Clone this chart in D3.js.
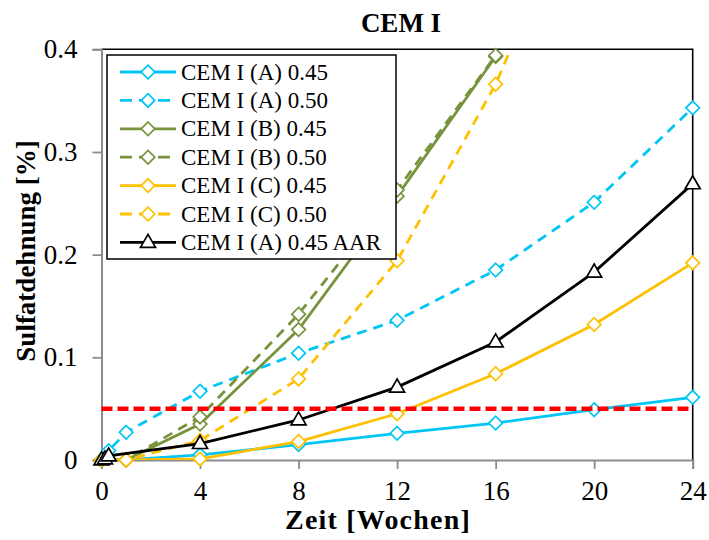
<!DOCTYPE html>
<html>
<head>
<meta charset="utf-8">
<script src="https://cdn.jsdelivr.net/npm/d3@7"></script>
<style>
  html, body { margin: 0; padding: 0; background: #fff; }
  svg { display: block; }
</style>
</head>
<body>
<svg id="chart" width="709" height="540"></svg>
<script>
// Sulfate expansion of CEM I mortars over time (weeks)
const xTicks = [0, 4, 8, 12, 16, 20, 24];
const yTicks = [0, 0.1, 0.2, 0.3, 0.4];
const limitValue = 0.05;

const weeksA045 = [0, 1, 4, 8, 12, 16, 20, 24];
const valuesA045 = [0, 0.000, 0.005, 0.015, 0.026, 0.036, 0.049, 0.061];

const weeksA050 = [0, 0.29, 1, 4, 8, 12, 16, 20, 24];
const valuesA050 = [0, 0.009, 0.027, 0.067, 0.104, 0.136, 0.185, 0.251, 0.343];

const weeksB045 = [0, 1, 4, 8, 12, 16];
const valuesB045 = [0, 0.000, 0.035, 0.127, 0.257, 0.393];

const weeksB050 = [0, 1, 4, 8, 12, 16];
const valuesB050 = [0, 0.000, 0.042, 0.142, 0.263, 0.394];

const weeksC045 = [0, 1, 4, 8, 12, 16, 20, 24];
const valuesC045 = [0, 0.000, 0.001, 0.018, 0.045, 0.084, 0.132, 0.192];

const weeksC050 = [0, 1, 4, 8, 12, 16, 20];
const valuesC050 = [0, 0.000, 0.019, 0.079, 0.194, 0.366, 0.59];

const weeksAAR = [0, 0.14, 0.29, 4, 8, 12, 16, 20, 24];
const valuesAAR = [0, 0.001, 0.004, 0.016, 0.039, 0.071, 0.115, 0.183, 0.269];

const seriesNames = [
  "CEM I (A) 0.45", "CEM I (A) 0.50", "CEM I (B) 0.45", "CEM I (B) 0.50",
  "CEM I (C) 0.45", "CEM I (C) 0.50", "CEM I (A) 0.45 AAR"
];

const cyan = "#00C5F5", olive = "#77933C", gold = "#FFC000";
const series = [
  { name: seriesNames[0], x: weeksA045, y: valuesA045, color: cyan,  dash: null,  marker: "diamond" },
  { name: seriesNames[1], x: weeksA050, y: valuesA050, color: cyan,  dash: "10,7", marker: "diamond" },
  { name: seriesNames[2], x: weeksB045, y: valuesB045, color: olive, dash: null,  marker: "diamond" },
  { name: seriesNames[3], x: weeksB050, y: valuesB050, color: olive, dash: "10,7", marker: "diamond" },
  { name: seriesNames[4], x: weeksC045, y: valuesC045, color: gold,  dash: null,  marker: "diamond" },
  { name: seriesNames[5], x: weeksC050, y: valuesC050, color: gold,  dash: "10,7", marker: "diamond" },
  { name: seriesNames[6], x: weeksAAR,  y: valuesAAR,  color: "#000", dash: null,  marker: "triangle" }
];

const FONT = "Liberation Serif";
const svg = d3.select("#chart").attr("font-family", FONT);
const plotLeft = 101.5, plotRight = 692.7, plotTop = 49.3, plotBottom = 460;

const x = d3.scaleLinear().domain([0, 24]).range([plotLeft, plotRight]);
const y = d3.scaleLinear().domain([0, 0.4]).range([plotBottom, plotTop]);

svg.append("defs").append("clipPath").attr("id", "plotClip")
  .append("rect").attr("x", plotLeft).attr("y", plotTop)
  .attr("width", plotRight - plotLeft).attr("height", plotBottom - plotTop);

// Frame: black top and right edges
svg.append("path")
  .attr("d", `M${plotLeft},${plotTop}H${plotRight}V${plotBottom}`)
  .attr("fill", "none").attr("stroke", "#000").attr("stroke-width", 1.6);

// Axes in grey
const axisGrey = "#8c8c8c";
const xAxis = svg.append("g").attr("transform", `translate(0,${plotBottom})`)
  .call(d3.axisBottom(x).tickValues(xTicks).tickSize(9).tickPadding(6).tickFormat(d3.format("d")));
const yAxis = svg.append("g").attr("transform", `translate(${plotLeft},0)`)
  .call(d3.axisLeft(y).tickValues(yTicks).tickSize(9).tickPadding(15)
    .tickFormat(d => d === 0 ? "0" : d3.format(".1f")(d)));
[xAxis, yAxis].forEach(g => {
  g.attr("font-family", FONT).attr("font-size", 27);
  g.select(".domain").attr("stroke", axisGrey).attr("stroke-width", 2);
  g.selectAll(".tick line").attr("stroke", axisGrey).attr("stroke-width", 1.8);
  g.selectAll(".tick text").attr("fill", "#000").attr("font-family", FONT).attr("font-size", 27);
});
xAxis.selectAll(".tick text").attr("dy", "0.92em");

const line = d3.line().x(d => x(d[0])).y(d => y(d[1]));

function drawMarker(g, kind, cx, cy, color) {
  if (kind === "diamond") {
    const r = 6.8;
    g.append("path")
      .attr("d", `M${cx},${cy - r}L${cx + r},${cy}L${cx},${cy + r}L${cx - r},${cy}Z`)
      .attr("fill", "#fff").attr("stroke", color).attr("stroke-width", 1.7);
  } else {
    const w = 7.5, h = 13;
    g.append("path")
      .attr("d", `M${cx},${cy - h * 0.62}L${cx + w},${cy + h * 0.38}L${cx - w},${cy + h * 0.38}Z`)
      .attr("fill", "#fff").attr("stroke", color).attr("stroke-width", 1.7);
  }
}

const plot = svg.append("g");
series.forEach(s => {
  const pts = s.x.map((v, i) => [v, s.y[i]]);
  plot.append("path")
    .attr("clip-path", "url(#plotClip)")
    .attr("d", line(pts))
    .attr("fill", "none").attr("stroke", s.color).attr("stroke-width", 2.8)
    .attr("stroke-dasharray", s.dash);
  const mg = plot.append("g");
  pts.filter(p => p[1] <= 0.4).forEach(p => drawMarker(mg, s.marker, x(p[0]), y(p[1]), s.color));
});

// Limit line at 0.05 %
svg.append("line")
  .attr("x1", x(0)).attr("x2", x(24)).attr("y1", y(limitValue)).attr("y2", y(limitValue))
  .attr("stroke", "#FF0000").attr("stroke-width", 4.5).attr("stroke-dasharray", "11,5");

// Legend
const legend = svg.append("g");
legend.append("rect").attr("x", 107).attr("y", 55).attr("width", 289).attr("height", 204)
  .attr("fill", "#fff").attr("stroke", "#000").attr("stroke-width", 1.5);
series.forEach((s, i) => {
  const cy = 72 + i * 28.4;
  legend.append("line").attr("x1", 120).attr("x2", 176).attr("y1", cy).attr("y2", cy)
    .attr("stroke", s.color).attr("stroke-width", 2.8)
    .attr("stroke-dasharray", s.dash ? "12,7" : null);
  drawMarker(legend, s.marker, 148, cy, s.color);
  legend.append("text").attr("x", 181).attr("y", cy + 7.5)
    .attr("font-family", FONT).attr("font-size", 23).text(s.name);
});

// Titles
svg.append("text").attr("x", 401).attr("y", 32).attr("text-anchor", "middle")
  .attr("font-family", FONT).attr("font-size", 27).attr("font-weight", "bold").text("CEM I");
svg.append("text").attr("x", 378).attr("y", 529).attr("text-anchor", "middle")
  .attr("font-family", FONT).attr("font-size", 28).attr("font-weight", "bold")
  .attr("letter-spacing", 1.2).text("Zeit [Wochen]");
svg.append("text").attr("transform", "translate(35,251) rotate(-90)").attr("text-anchor", "middle")
  .attr("font-family", FONT).attr("font-size", 27).attr("font-weight", "bold").text("Sulfatdehnung [%]");
</script>
</body>
</html>
